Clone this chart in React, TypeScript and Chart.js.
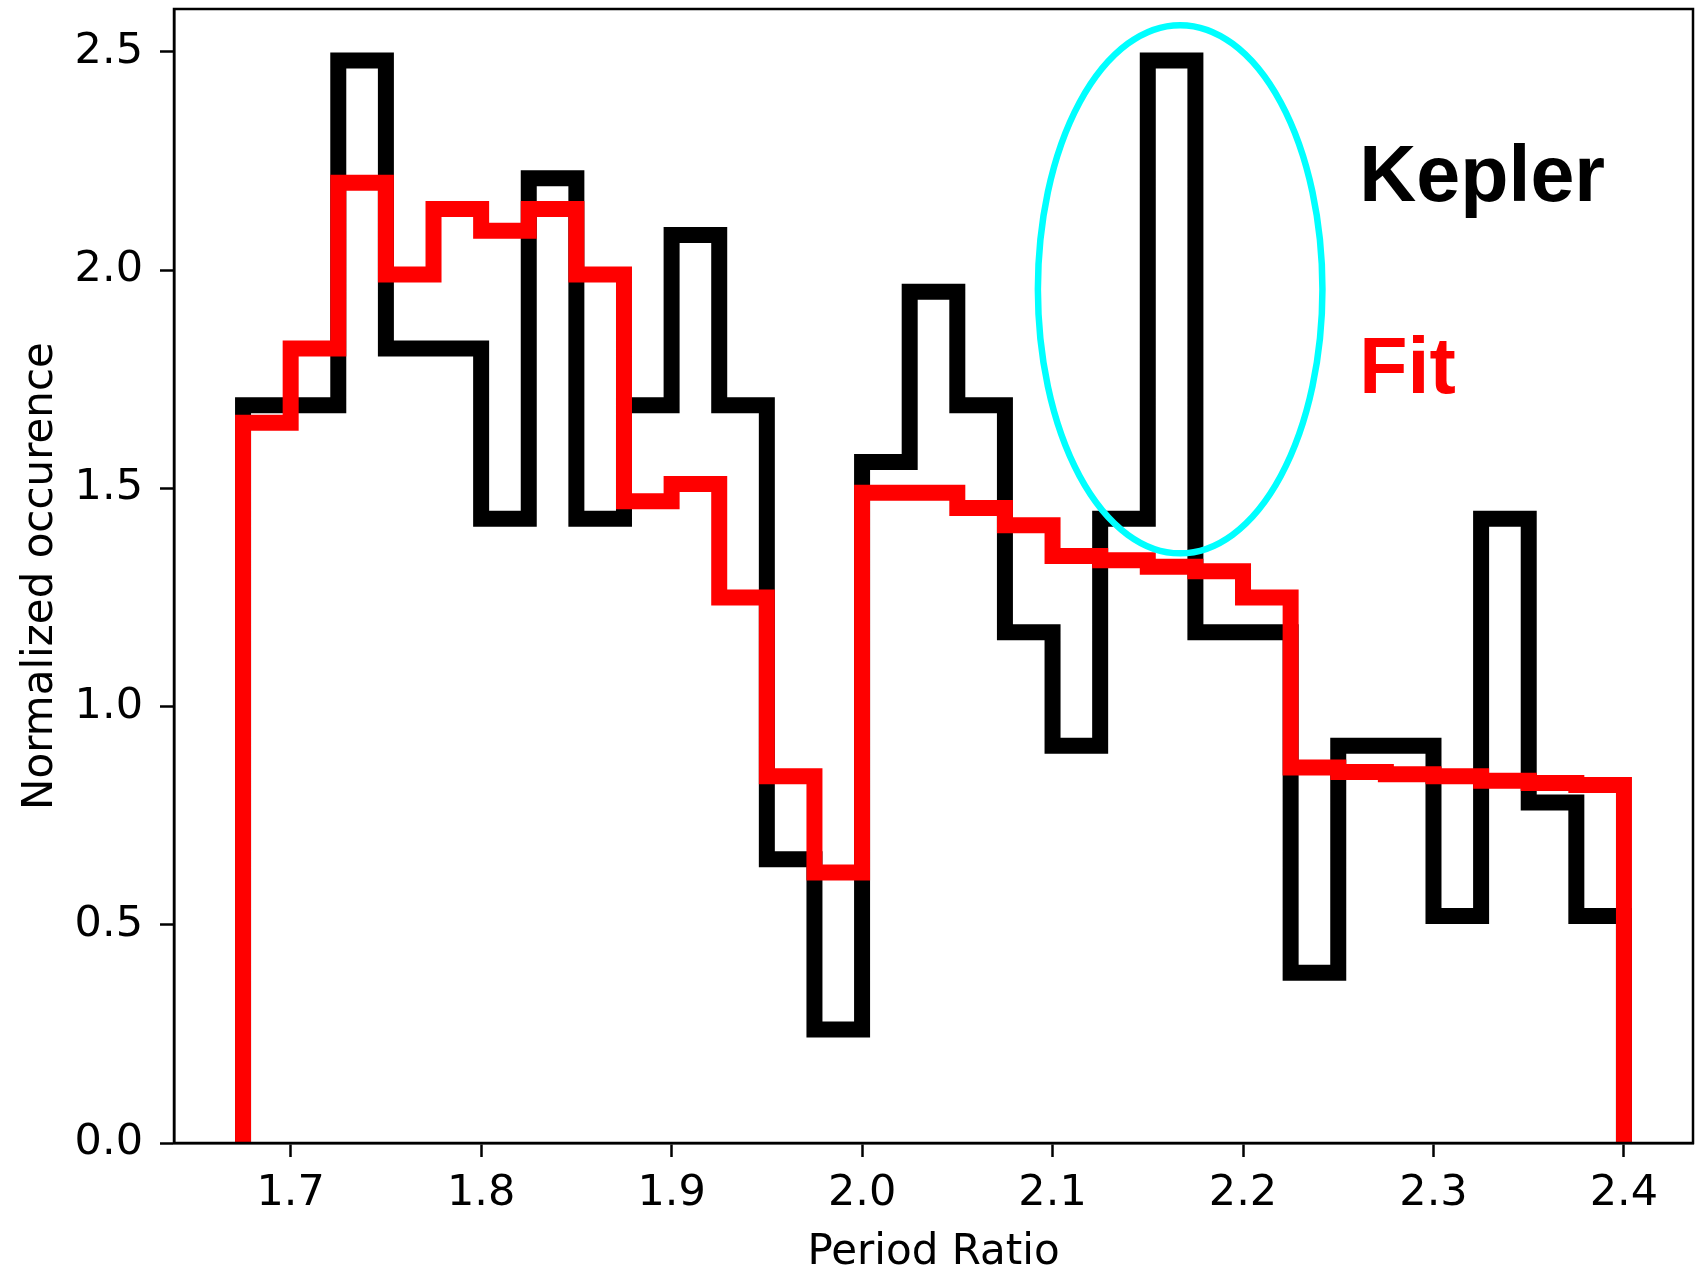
import React, { useEffect, useRef } from "react";
import { Chart, registerables } from "chart.js";

Chart.register(...registerables);

// Histogram bin edges (Period Ratio)
const binEdges = [
  1.675, 1.7, 1.725, 1.75, 1.775, 1.8, 1.825, 1.85, 1.875, 1.9, 1.925, 1.95,
  1.975, 2.0, 2.025, 2.05, 2.075, 2.1, 2.125, 2.15, 2.175, 2.2, 2.225, 2.25,
  2.275, 2.3, 2.325, 2.35, 2.375, 2.4,
];

// Kepler normalized occurrence per bin
const keplerValues = [
  1.69, 1.69, 2.48, 1.82, 1.82, 1.43, 2.21, 1.43, 1.69, 2.08, 1.69, 0.65, 0.26,
  1.56, 1.95, 1.69, 1.17, 0.91, 1.43, 2.48, 1.17, 1.17, 0.39, 0.91, 0.91, 0.52,
  1.43, 0.78, 0.52,
];

// Fit normalized occurrence per bin
const fitValues = [
  1.65, 1.82, 2.2, 1.99, 2.14, 2.09, 2.14, 1.99, 1.47, 1.51, 1.25, 0.84, 0.62,
  1.49, 1.49, 1.455, 1.415, 1.345, 1.335, 1.32, 1.31, 1.25, 0.86, 0.85, 0.845,
  0.84, 0.83, 0.825, 0.82,
];

const xTickValues = [1.7, 1.8, 1.9, 2.0, 2.1, 2.2, 2.3, 2.4];
const yTickValues = [0, 0.5, 1.0, 1.5, 2.0, 2.5];

const xTitle = "Period Ratio";
const yTitle = "Normalized occurence";

// annotation (data coordinates)
const ellipseCenter = [2.167, 1.956];
const ellipseRadii = [0.0747, 0.605];
const textLabels = [
  { text: "Kepler", x: 2.261, y: 2.159, color: "#000000" },
  { text: "Fit", x: 2.261, y: 1.718, color: "#ff0000" },
];

function stepPoints(edges: number[], values: number[]) {
  const pts: { x: number; y: number }[] = [{ x: edges[0], y: 0 }];
  values.forEach((v, i) => {
    pts.push({ x: edges[i], y: v });
    pts.push({ x: edges[i + 1], y: v });
  });
  pts.push({ x: edges[edges.length - 1], y: 0 });
  return pts;
}

const TICK_FONT = { family: "'DejaVu Sans'", size: 43 };
const TITLE_FONT = { family: "'DejaVu Sans'", size: 42 };

const overlayPlugin = {
  id: "overlay",
  afterDatasetsDraw(chart: any) {
    const { ctx, chartArea, scales } = chart;
    const xs = scales.x;
    const ys = scales.y;
    ctx.save();
    // frame
    ctx.strokeStyle = "#000";
    ctx.lineWidth = 2.5;
    ctx.strokeRect(
      chartArea.left,
      chartArea.top,
      chartArea.right - chartArea.left,
      chartArea.bottom - chartArea.top
    );
    // ellipse
    const cx = xs.getPixelForValue(ellipseCenter[0]);
    const cy = ys.getPixelForValue(ellipseCenter[1]);
    const rx = Math.abs(xs.getPixelForValue(ellipseCenter[0] + ellipseRadii[0]) - cx);
    const ry = Math.abs(ys.getPixelForValue(ellipseCenter[1] + ellipseRadii[1]) - cy);
    ctx.beginPath();
    ctx.ellipse(cx, cy, rx, ry, 0, 0, Math.PI * 2);
    ctx.strokeStyle = "#00ffff";
    ctx.lineWidth = 6.5;
    ctx.stroke();
    // labels
    ctx.font = "bold 79px 'Liberation Sans', Arial, sans-serif";
    ctx.textAlign = "left";
    ctx.textBaseline = "alphabetic";
    textLabels.forEach((l) => {
      ctx.fillStyle = l.color;
      ctx.fillText(l.text, xs.getPixelForValue(l.x), ys.getPixelForValue(l.y));
    });
    ctx.restore();
  },
};

export default function App() {
  const ref = useRef<HTMLCanvasElement | null>(null);

  useEffect(() => {
    if (!ref.current) return;
    const chart = new Chart(ref.current, {
      type: "line",
      data: {
        datasets: [
          {
            label: "Fit",
            data: stepPoints(binEdges, fitValues),
            borderColor: "#ff0000",
            borderWidth: 16,
            pointRadius: 0,
            fill: false,
            tension: 0,
            borderJoinStyle: "miter",
            borderCapStyle: "butt",
            order: 0,
          },
          {
            label: "Kepler",
            data: stepPoints(binEdges, keplerValues),
            borderColor: "#000000",
            borderWidth: 16,
            pointRadius: 0,
            fill: false,
            tension: 0,
            borderJoinStyle: "miter",
            borderCapStyle: "butt",
            order: 1,
          },
        ],
      },
      options: {
        responsive: false,
        animation: false,
        devicePixelRatio: 1,
        layout: { padding: { top: 9, right: 11, left: 0, bottom: 0 } },
        plugins: {
          legend: { display: false },
          tooltip: { enabled: false },
        },
        scales: {
          x: {
            type: "linear",
            min: 1.63875,
            max: 2.43625,
            afterBuildTicks: (scale: any) => {
              scale.ticks = xTickValues.map((v) => ({ value: v }));
            },
            afterFit: (scale: any) => {
              scale.height = 128;
              scale.paddingLeft = 0;
              scale.paddingRight = 0;
            },
            grid: {
              drawOnChartArea: false,
              drawTicks: true,
              tickLength: 14,
              tickWidth: 2.5,
              tickColor: "#000",
            },
            border: { display: true, color: "#000", width: 2.5 },
            ticks: {
              color: "#000",
              font: TICK_FONT,
              padding: 11,
              maxRotation: 0,
              autoSkip: false,
              callback: (v: any) => Number(v).toFixed(1),
            },
            title: {
              display: true,
              text: xTitle,
              color: "#000",
              font: TITLE_FONT,
              padding: { top: 0, bottom: -7 },
            },
          },
          y: {
            type: "linear",
            min: 0,
            max: 2.598,
            afterBuildTicks: (scale: any) => {
              scale.ticks = yTickValues.map((v) => ({ value: v }));
            },
            afterFit: (scale: any) => {
              scale.width = 174;
              scale.paddingTop = 0;
              scale.paddingBottom = 0;
            },
            grid: {
              drawOnChartArea: false,
              drawTicks: true,
              tickLength: 14,
              tickWidth: 2.5,
              tickColor: "#000",
            },
            border: { display: true, color: "#000", width: 2.5 },
            ticks: {
              color: "#000",
              font: TICK_FONT,
              padding: 17,
              autoSkip: false,
              callback: (v: any) => Number(v).toFixed(1),
            },
            title: {
              display: true,
              text: yTitle,
              color: "#000",
              font: TITLE_FONT,
              padding: { top: 16, bottom: 0 },
            },
          },
        },
      },
      plugins: [overlayPlugin],
    } as any);
    return () => chart.destroy();
  }, []);

  return (
    <div style={{ position: "absolute", left: 0, top: 0, width: 1704, height: 1271, background: "#fff" }}>
      <canvas ref={ref} width={1704} height={1271} />
    </div>
  );
}
